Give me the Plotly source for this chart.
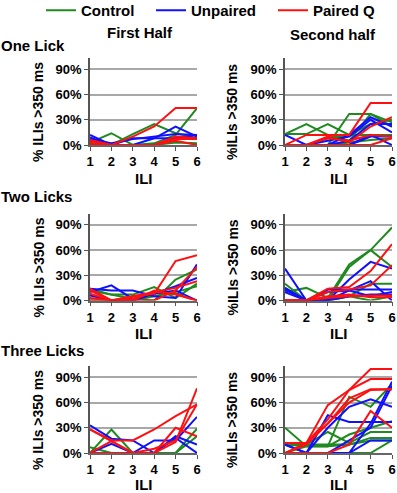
import plotly.graph_objects as go

ILI = [1, 2, 3, 4, 5, 6]
Y_TICKS = [0, 30, 60, 90]
Y_TICK_TEXT = ["0%", "30%", "60%", "90%"]
GROUPS = ["Control", "Unpaired", "Paired Q"]
ROW_LABELS = ["One Lick", "Two Licks", "Three Licks"]
COL_LABELS = ["First Half", "Second half"]
Y_TITLES = ["% ILIs >350 ms", "%ILIs >350 ms"]

# values in percent, one list per animal/line
one_first_control = [[3, 14, 0, 2, 12, 44], [5, 0, 13, 25, 14, 8], [2, 0, 0, 0, 3, 2]]
one_first_unpaired = [[12, 0, 0, 8, 22, 10], [9, 0, 8, 8, 8, 12], [7, 2, 7, 10, 13, 12], [0, 0, 0, 0, 8, 8]]
one_first_paired = [[5, 0, 10, 22, 44, 44], [2, 0, 0, 0, 7, 7], [0, 0, 0, 0, 5, 0], [6, 0, 0, 0, 10, 8]]

one_second_control = [[13, 25, 12, 5, 37, 27], [13, 13, 25, 12, 12, 12], [0, 0, 0, 37, 37, 22], [0, 0, 8, 12, 25, 30], [0, 0, 0, 3, 6, 8]]
one_second_unpaired = [[12, 0, 0, 12, 33, 22], [0, 0, 5, 10, 30, 15], [0, 0, 0, 0, 12, 0], [0, 0, 0, 0, 10, 10], [0, 0, 0, 5, 25, 25]]
one_second_paired = [[0, 12, 12, 12, 50, 50], [0, 0, 10, 3, 22, 33], [0, 0, 0, 0, 0, 8], [0, 0, 8, 5, 12, 10]]

two_first_control = [[14, 7, 7, 16, 3, 20], [12, 7, 2, 0, 25, 37], [0, 0, 0, 5, 10, 17]]
two_first_unpaired = [[10, 18, 2, 8, 17, 27], [14, 12, 12, 5, 3, 43], [6, 0, 0, 8, 12, 0]]
two_first_paired = [[12, 0, 5, 8, 47, 54], [8, 0, 0, 12, 7, 0], [14, 0, 0, 0, 12, 40], [3, 0, 5, 10, 15, 23], [0, 0, 2, 10, 8, 0]]

two_second_control = [[20, 0, 0, 40, 60, 87], [10, 15, 3, 43, 60, 40], [0, 0, 0, 5, 20, 20], [15, 0, 0, 5, 0, 5]]
two_second_unpaired = [[38, 0, 0, 25, 46, 38], [15, 0, 0, 12, 23, 0], [10, 0, 13, 13, 13, 13], [0, 0, 0, 5, 7, 7], [13, 0, 10, 12, 5, 10]]
two_second_paired = [[0, 0, 14, 16, 35, 67], [0, 0, 10, 13, 18, 42], [0, 0, 3, 5, 6, 6], [0, 0, 5, 7, 4, 4]]

three_first_control = [[0, 28, 0, 0, 0, 20], [7, 0, 0, 0, 0, 29]]
three_first_unpaired = [[33, 17, 15, 0, 20, 10], [0, 11, 0, 15, 15, 43], [0, 0, 0, 0, 18, 0]]
three_first_paired = [[28, 15, 15, 28, 44, 58], [28, 14, 0, 0, 13, 77], [0, 14, 0, 0, 30, 20], [0, 0, 0, 5, 15, 58]]

three_second_control = [[30, 8, 8, 67, 55, 82], [10, 10, 25, 12, 25, 25], [10, 8, 8, 22, 30, 38], [0, 8, 8, 10, 18, 18], [0, 0, 0, 0, 0, 15], [10, 10, 10, 10, 15, 15]]
three_second_unpaired = [[10, 0, 45, 37, 37, 37], [10, 0, 30, 55, 64, 55], [0, 0, 0, 0, 35, 85], [0, 0, 0, 0, 15, 15], [0, 0, 0, 15, 30, 80]]
three_second_paired = [[0, 12, 57, 75, 100, 100], [12, 12, 40, 75, 88, 88], [0, 10, 35, 65, 76, 76], [0, 0, 0, 10, 50, 30], [12, 12, 35, 60, 75, 76]]

PANELS = [
    (0, 0, [one_first_control, one_first_unpaired, one_first_paired]),
    (0, 1, [one_second_control, one_second_unpaired, one_second_paired]),
    (1, 0, [two_first_control, two_first_unpaired, two_first_paired]),
    (1, 1, [two_second_control, two_second_unpaired, two_second_paired]),
    (2, 0, [three_first_control, three_first_unpaired, three_first_paired]),
    (2, 1, [three_second_control, three_second_unpaired, three_second_paired]),
]

COLORS = ["#1f8a1f", "#1010ff", "#ff1010"]
LEGEND_IDS = ["legend", "legend2", "legend3"]
LEGEND_X = [41, 151, 273]
W, H = 397, 493
FONT = "Arial, Liberation Sans, sans-serif"


def px(x):
    return x / W


def py(y):
    return 1 - y / H


X_DOM = {0: (90, 197), 1: (285, 392)}
Y_ZERO = {0: 145, 1: 300.5, 2: 453}
ILI_TITLE_OFFSET = {0: 33, 1: 33, 2: 31}
YMAX = 103
PX_PER_PCT = 0.84

fig = go.Figure()
layout = dict(
    width=W, height=H, margin=dict(l=0, r=0, t=0, b=0, autoexpand=False),
    paper_bgcolor="white", plot_bgcolor="white",
    font=dict(family=FONT, color="black"),
    showlegend=True,
)
for lid, lx in zip(LEGEND_IDS, LEGEND_X):
    layout[lid] = dict(orientation="h", x=px(lx), y=py(-6), xanchor="left", yanchor="top",
                       font=dict(size=15, weight="bold", family=FONT),
                       bgcolor="rgba(0,0,0,0)", itemwidth=30)

annotations = []
legend_done = set()

for i, (r, c, groups) in enumerate(PANELS):
    k = i + 1
    xa = "x" if k == 1 else f"x{k}"
    ya = "y" if k == 1 else f"y{k}"
    for g, lines in enumerate(groups):
        for line in lines:
            show = g not in legend_done
            legend_done.add(g)
            fig.add_trace(go.Scatter(
                x=ILI, y=line, mode="lines", xaxis=xa, yaxis=ya,
                line=dict(color=COLORS[g], width=2),
                name=GROUPS[g], legendgroup=GROUPS[g], showlegend=show,
                legend=LEGEND_IDS[g], hoverinfo="skip"))
    x0, x1 = X_DOM[c]
    y0 = Y_ZERO[r]
    ytop = y0 - YMAX * PX_PER_PCT
    layout["xaxis" if k == 1 else f"xaxis{k}"] = dict(
        domain=[px(x0), px(x1)], range=[1, 6], anchor=ya,
        tickvals=ILI, ticks="outside", ticklen=4, tickcolor="#555",
        showline=True, linecolor="#666", linewidth=1.5, showgrid=False, zeroline=False,
        tickfont=dict(size=13, weight="bold", family=FONT), fixedrange=True)
    layout["yaxis" if k == 1 else f"yaxis{k}"] = dict(
        domain=[py(y0), py(ytop)], range=[0, YMAX], anchor=xa,
        tickvals=Y_TICKS, ticktext=Y_TICK_TEXT, ticks="outside", ticklen=4, tickcolor="#555",
        showline=True, linecolor="#555", linewidth=1.5,
        showgrid=True, gridcolor="#a8a8a8", gridwidth=1.5, zeroline=False,
        tickfont=dict(size=13, weight="bold", family=FONT), fixedrange=True)
    annotations.append(dict(
        text="ILI", x=px((x0 + x1) / 2), y=py(y0 + ILI_TITLE_OFFSET[r]), xref="paper", yref="paper",
        showarrow=False, xanchor="center", yanchor="middle",
        font=dict(size=15, weight="bold", family=FONT)))
    annotations.append(dict(
        text=Y_TITLES[c], x=px(38 if c == 0 else 232), y=py(y0 - 33), xref="paper", yref="paper",
        showarrow=False, xanchor="center", yanchor="middle", textangle=-90,
        font=dict(size=14, weight="bold", family=FONT)))

for lab, xc, yc in zip(COL_LABELS, [140, 333], [33, 35]):
    annotations.append(dict(text=lab, x=px(xc), y=py(yc), xref="paper", yref="paper",
                            showarrow=False, xanchor="center", yanchor="middle",
                            font=dict(size=15, weight="bold", family=FONT)))
for lab, yc in zip(ROW_LABELS, [46, 196, 350]):
    annotations.append(dict(text=lab, x=px(-1), y=py(yc), xref="paper", yref="paper",
                            showarrow=False, xanchor="left", yanchor="middle",
                            font=dict(size=15, weight="bold", family=FONT)))

layout["annotations"] = annotations
fig.update_layout(**layout)
fig.write_html("out.html", config={"displayModeBar": False},
               post_script="document.body.style.margin='0';document.body.style.padding='0';")
